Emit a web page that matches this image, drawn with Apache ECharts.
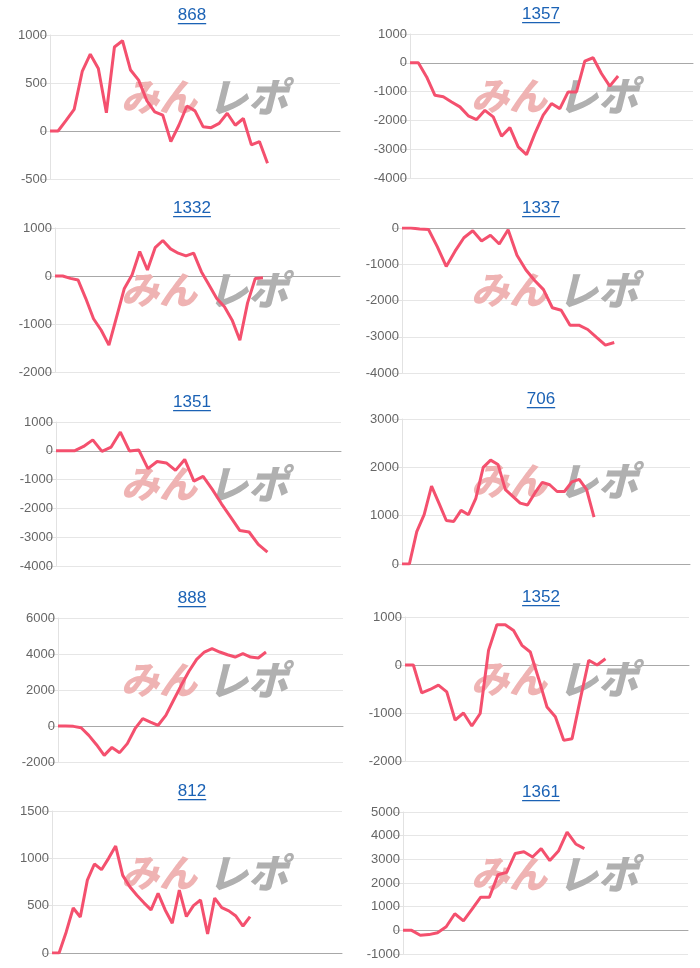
<!DOCTYPE html>
<html><head><meta charset="utf-8">
<script src="https://cdn.jsdelivr.net/npm/echarts@6/dist/echarts.min.js"></script>
<style>html,body{margin:0;padding:0;background:#fff}#c{width:700px;height:968px}</style>
</head><body><div id="c"></div>
<script>
// ---- data ----
const titles = ['868','1357','1332','1337','1351','706','888','1352','812','1361'];
const s868  = [0,0,110,225,620,800,650,190,875,940,635,530,320,200,165,-110,60,260,210,45,35,80,185,60,130,-145,-110,-335];
const s1357 = [0,0,-490,-1130,-1180,-1360,-1530,-1840,-1970,-1650,-1880,-2550,-2250,-2920,-3190,-2460,-1820,-1415,-1590,-1010,-1010,60,175,-370,-810,-460];
const s1332 = [0,0,-50,-85,-470,-890,-1130,-1440,-850,-260,20,510,125,590,740,565,475,420,475,90,-190,-470,-640,-920,-1340,-560,-50,-35];
const s1337 = [0,0,-30,-40,-520,-1060,-640,-270,-75,-360,-200,-440,-50,-750,-1150,-1450,-1700,-2200,-2270,-2680,-2680,-2800,-3020,-3230,-3160];
const s1351 = [0,0,0,150,380,-20,130,650,-10,30,-620,-370,-420,-680,-300,-1050,-890,-1340,-1840,-2300,-2770,-2820,-3250,-3520];
const s706  = [0,0,670,1020,1610,1260,900,880,1110,1020,1360,2000,2150,2060,1540,1400,1260,1220,1470,1690,1640,1500,1500,1700,1750,1540,970];
const s888  = [0,0,-20,-100,-520,-1040,-1630,-1190,-1480,-980,-150,410,220,40,590,1430,2260,3040,3700,4110,4300,4110,3960,3830,4020,3830,3780,4110];
const s1352 = [0,0,-580,-510,-420,-560,-1150,-1000,-1270,-1010,305,840,840,720,410,270,-285,-875,-1080,-1570,-1535,-700,100,0,130];
const s812  = [0,0,220,475,380,770,940,880,1000,1130,820,700,610,530,455,630,455,315,665,385,500,560,200,580,480,445,390,285,385];
const s1361 = [0,0,-210,-180,-100,150,700,400,900,1400,1400,2350,2450,3250,3320,3100,3450,2950,3350,4150,3650,3450];
const seriesValues = [s868,s1357,s1332,s1337,s1351,s706,s888,s1352,s812,s1361];
const yMin  = [-500,-4000,-2000,-4000,-4000,0,-2000,-2000,0,-1000];
const yMax  = [1000,1000,1000,0,1000,3000,6000,1000,1500,5000];
const yStep = [500,1000,1000,1000,1000,1000,2000,1000,500,1000];
const slotCount = [37,35,38,33,32,40,38,35,42,34];
const watermarkA = 'みん';
const watermarkB = 'レポ';

// ---- layout (px) : left, top, right, bottom ----
const boxes = [
  [50,35,340,179],[410,34,693,178],
  [55,228,340,372],[402,228,685,373],
  [56,422,341,566],[402,419,690,564],
  [58,618,343,762],[405,617,689,761],
  [52,811,342,953],[403,812,688,954]
];

const chart = echarts.init(document.getElementById('c'), null, {renderer:'canvas'});
const ctx = document.createElement('canvas').getContext('2d');
ctx.font = '17px "Liberation Sans"';

const grid=[], xAxis=[], yAxis=[], series=[], graphic=[];
titles.forEach((t,i)=>{
  const [l,tp,r,b] = boxes[i];
  const col = i % 2;
  const px = col ? 350 : 0;
  grid.push({left:l, top:tp, width:r-l, height:b-tp});
  const cats = Array.from({length:slotCount[i]}, (_,k)=>String(k+1));
  xAxis.push({gridIndex:i, type:'category', boundaryGap:false, data:cats,
    axisLine:{show:true,onZero:true,lineStyle:{color:'#a8a8a8',width:1}},
    axisTick:{show:false}, axisLabel:{show:false}, splitLine:{show:false}});
  yAxis.push({gridIndex:i, type:'value', min:yMin[i], max:yMax[i], interval:yStep[i],
    axisLine:{show:true,lineStyle:{color:'#e2e2e2'}},
    axisTick:{show:true,length:10,lineStyle:{color:'#e2e2e2'}},
    axisLabel:{margin:3,color:'#666',fontSize:13,fontFamily:'"Liberation Sans", Arial, sans-serif',
      formatter:(v)=>String(v)},
    splitLine:{show:true,lineStyle:{color:'#e6e6e6',width:1}}});
  series.push({type:'line', xAxisIndex:i, yAxisIndex:i, data:seriesValues[i],
    showSymbol:false, symbol:'none', lineStyle:{color:'#f4506e',width:3}, z:5, animation:false});
  // watermark
  const wy = tp + 62;
  graphic.push({type:'text', x:px+121, y:wy, z:1, silent:true,
    style:{text:watermarkA, fill:'#efb3b3', fontStyle:'italic', fontWeight:900, fontSize:38,
      fontFamily:'"Noto Sans CJK JP"', verticalAlign:'middle', align:'left'}});
  graphic.push({type:'text', x:px+208, y:wy, z:1, silent:true,
    style:{text:watermarkB, fill:'#b0b0b0', fontStyle:'italic', fontWeight:900, fontSize:40,
      fontFamily:'"Noto Sans CJK JP"', verticalAlign:'middle', align:'left'}});
  // title with underline
  const cx = col ? 541 : 192;
  const w = ctx.measureText(t).width;
  graphic.push({type:'text', x:cx, y:tp-20, z:10,
    style:{text:t, fill:'#1b62b5', font:'17px "Liberation Sans"', align:'center', verticalAlign:'middle'}});
  graphic.push({type:'rect', shape:{x:cx-w/2, y:tp-12, width:w, height:1.3}, z:10,
    style:{fill:'#1b62b5'}});
});

chart.setOption({animation:false, grid, xAxis, yAxis, series, graphic});
</script>
</body></html>
